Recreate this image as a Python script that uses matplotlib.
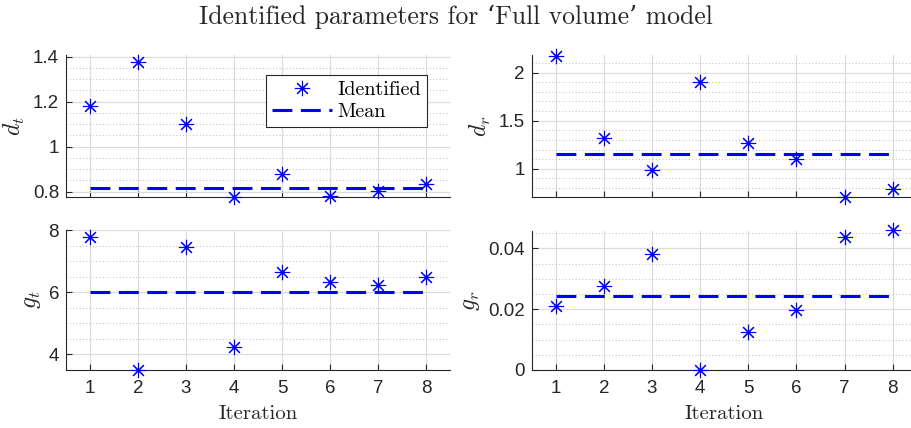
import numpy as np
import matplotlib
matplotlib.use("Agg")
import matplotlib.pyplot as plt
from matplotlib.ticker import MultipleLocator, FuncFormatter
from matplotlib.lines import Line2D

plt.rcParams['mathtext.fontset'] = 'cm'
plt.rcParams['font.family'] = ['Liberation Sans', 'DejaVu Sans']

# data
iterations = [1, 2, 3, 4, 5, 6, 7, 8]
d_t = [1.181, 1.378, 1.100, 0.777, 0.877, 0.781, 0.803, 0.834]
d_r = [2.17, 1.32, 0.99, 1.90, 1.27, 1.107, 0.71, 0.793]
g_t = [7.77, 3.50, 7.46, 4.245, 6.64, 6.32, 6.225, 6.49]
g_r = [0.0209, 0.0277, 0.0381, 0.0, 0.0126, 0.0198, 0.0437, 0.0460]
mean_d_t = 0.815
mean_d_r = 1.155
mean_g_t = 6.0
mean_g_r = 0.0242

title = "Identified parameters for \u2018Full volume\u2019 model"
serif = ['cmr10', 'DejaVu Serif']
txt_col = '#262626'

W, H = 912, 428
fig = plt.figure(figsize=(W / 100, H / 100), dpi=100)


def px_axes(left, top, right, bottom):
    return fig.add_axes([left / W, 1 - bottom / H, (right - left) / W, (bottom - top) / H])


panels = [
    # (values, mean, label, ylim, major, minor, pos, xlabel)
    (d_t, mean_d_t, r'$d_t$', (0.777, 1.408), 0.2, 0.05, (66, 55, 450, 196.7), False),
    (d_r, mean_d_r, r'$d_r$', (0.71, 2.183), 0.5, 0.1, (531.7, 55, 916.7, 196.7), False),
    (g_t, mean_g_t, r'$g_t$', (3.495, 8.0), 2, 0.5, (66, 230, 450, 370), True),
    (g_r, mean_g_r, r'$g_r$', (0.0, 0.0458), 0.02, 0.005, (531.7, 230.7, 916.7, 370), True),
]

fmt = FuncFormatter(lambda v, p: ('%g' % round(v, 6)))
mk = dict(linestyle='none', marker=(8, 2, 0), markersize=11, markeredgewidth=0.8, color='#0000ff')
mean_style = dict(color='#0000ff', linewidth=2.2, dashes=(6.5, 2.8))

axes = []
for vals, mean, lab, ylim, major, minor, pos, xl in panels:
    ax = px_axes(*pos)
    ax.set_axisbelow(True)
    ax.plot(iterations, vals, clip_on=False, zorder=3, **mk)
    ax.plot([iterations[0], iterations[-1]], [mean, mean], zorder=2, **mean_style)
    ax.set_xlim(0.5, 8.5)
    ax.set_ylim(*ylim)
    ax.set_xticks(iterations)
    ax.yaxis.set_major_locator(MultipleLocator(major))
    ax.yaxis.set_minor_locator(MultipleLocator(minor))
    ax.yaxis.set_major_formatter(fmt)
    ax.grid(True, which='major', color='#dcdcdc', linewidth=0.9)
    ax.grid(True, which='minor', axis='y', color='#a8a8a8', linestyle=(0, (1, 3)), linewidth=0.6)
    for s in ['top', 'right']:
        ax.spines[s].set_visible(False)
    for s in ['left', 'bottom']:
        ax.spines[s].set_color(txt_col)
        ax.spines[s].set_linewidth(0.8)
    ax.tick_params(which='major', direction='in', length=4, colors=txt_col, labelsize=13.5, width=0.8)
    ax.tick_params(axis='x', pad=7)
    ax.tick_params(axis='y', pad=5)
    ax.tick_params(which='minor', length=0)
    if not xl:
        ax.tick_params(axis='x', labelbottom=False)
    else:
        ax.set_xlabel('Iteration', family=serif, fontsize=15, color=txt_col, labelpad=6)
    ax.set_ylabel(lab, fontsize=17, color=txt_col, labelpad=4)
    axes.append(ax)

handles = [Line2D([], [], **mk), Line2D([], [], **mean_style)]
leg = axes[0].legend(handles, ['Identified', 'Mean'], loc='upper left',
                     bbox_to_anchor=((266 - 66) / 384, 1 - (75 - 55) / 141.7),
                     prop={'family': serif, 'size': 14.5}, fancybox=False, framealpha=1,
                     edgecolor=txt_col, handlelength=3.0, handletextpad=0.25,
                     borderpad=0.3, labelspacing=0.2, borderaxespad=0)
leg.get_frame().set_linewidth(0.8)

fig.text(0.5, 0.962, title, ha='center', va='center', family=serif, fontsize=18.5, color=txt_col)

fig.savefig('out.png', dpi=100)
